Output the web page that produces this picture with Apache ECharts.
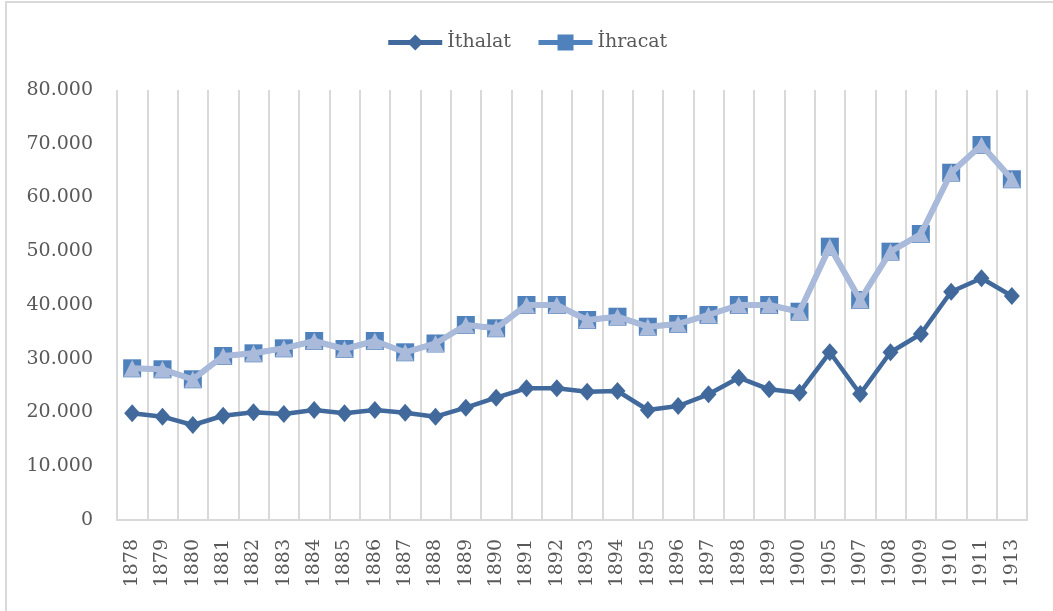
<!DOCTYPE html>
<html>
<head>
<meta charset="utf-8">
<script src="https://cdn.jsdelivr.net/npm/echarts@6/dist/echarts.min.js"></script>
<style>
  html, body { margin: 0; padding: 0; background: #fff; overflow: hidden; }
  #frame { position: absolute; left: 5px; top: 1px; width: 1200px; height: 800px; border: 2px solid #D9D9D9; }
  #main { position: absolute; left: 0; top: 0; width: 1053px; height: 611px; }
</style>
</head>
<body>
<div id="frame"></div>
<div id="main"></div>
<script>
// years on the x axis (note the gaps after 1900)
const years = ['1878','1879','1880','1881','1882','1883','1884','1885','1886','1887',
  '1888','1889','1890','1891','1892','1893','1894','1895','1896','1897','1898','1899',
  '1900','1905','1907','1908','1909','1910','1911','1913'];

// imports
const ithalat = [19850, 19220, 17670, 19400, 20040, 19720, 20470, 19850, 20470, 19960,
  19220, 20890, 22750, 24500, 24500, 23870, 24000, 20470, 21210, 23390, 26470, 24320,
  23680, 31200, 23440, 31200, 34600, 42470, 44970, 41670];

// exports
const ihracat = [28220, 28040, 26180, 30510, 31010, 31940, 33300, 31810, 33300, 31200,
  32840, 36280, 35670, 40000, 40000, 37210, 37820, 35960, 36470, 38140, 40000, 40000,
  38750, 50850, 40930, 49920, 53210, 64610, 69770, 63390];

const yTicks = [0, 10000, 20000, 30000, 40000, 50000, 60000, 70000, 80000];

const fmt = v => v === 0 ? '0' : (v / 1000).toFixed(0) + '.000';

const chart = echarts.init(document.getElementById('main'));
chart.setOption({
  backgroundColor: 'transparent',
  animation: false,
  textStyle: { fontFamily: 'DejaVu Serif', color: '#595959' },
  legend: {
    data: [
      { name: 'İthalat', lineStyle: { width: 5, color: '#41699C' } },
      { name: 'İhracat', lineStyle: { width: 5, color: '#4F81BD' } }
    ],
    top: 28,
    left: 'center',
    itemWidth: 54,
    itemHeight: 20,
    itemGap: 25,
    textStyle: { fontSize: 19, color: '#595959', fontFamily: 'DejaVu Serif' }
  },
  grid: { left: 117, right: 26, top: 90, bottom: 91 },
  xAxis: {
    type: 'category',
    data: years,
    boundaryGap: true,
    axisLine: { lineStyle: { color: '#D9D9D9', width: 2 } },
    axisTick: { show: false },
    splitLine: { show: true, interval: 0, lineStyle: { color: '#D9D9D9', width: 2 } },
    axisLabel: { rotate: 90, interval: 0, margin: 19, fontSize: 19, color: '#595959', fontFamily: 'DejaVu Serif' }
  },
  yAxis: {
    type: 'value',
    min: yTicks[0],
    max: yTicks[yTicks.length - 1],
    interval: yTicks[1] - yTicks[0],
    axisLine: { show: false },
    axisTick: { show: false },
    splitLine: { show: false },
    axisLabel: {
      margin: 24, fontSize: 19, color: '#595959', fontFamily: 'DejaVu Serif',
      padding: [5, 0, 0, 0], formatter: fmt
    }
  },
  series: [
    {
      name: 'İhracat',
      type: 'line',
      data: ihracat,
      symbol: 'rect',
      symbolSize: 18,
      color: '#4F81BD',
      lineStyle: { color: '#4F81BD', width: 5 },
      z: 2
    },
    {
      name: 'overlay',
      type: 'line',
      data: ihracat,
      symbol: 'triangle',
      symbolSize: 17,
      color: '#A9BADA',
      itemStyle: { color: '#A9BADA' },
      lineStyle: { color: '#A9BADA', width: 6 },
      z: 3
    },
    {
      name: 'İthalat',
      type: 'line',
      data: ithalat,
      symbol: 'diamond',
      symbolSize: [16, 18],
      color: '#41699C',
      lineStyle: { color: '#41699C', width: 4.5 },
      z: 4
    }
  ]
});
</script>
</body>
</html>
